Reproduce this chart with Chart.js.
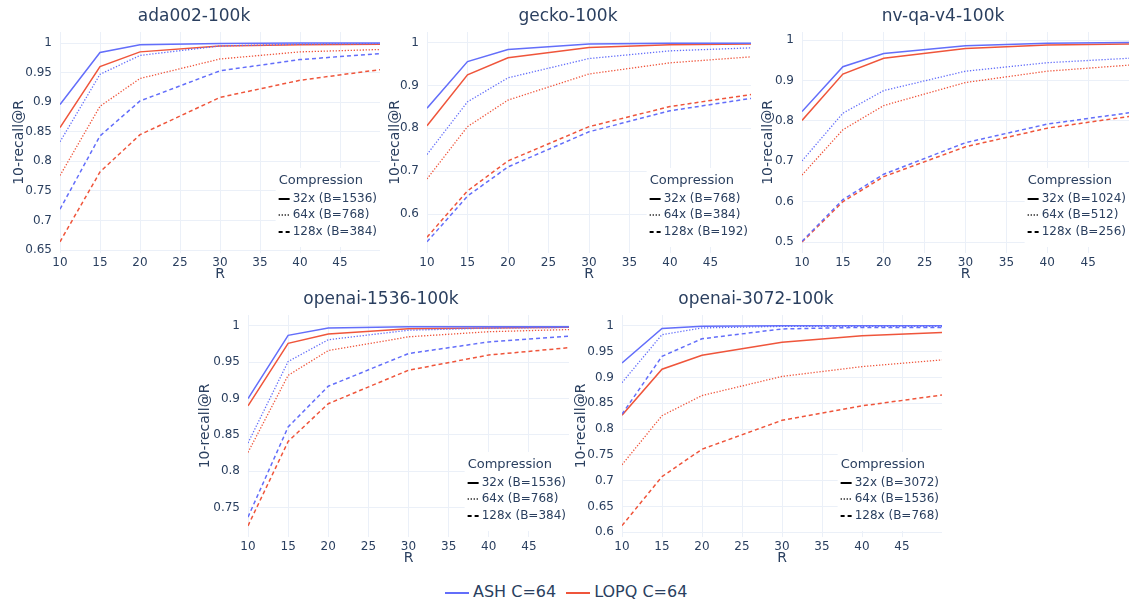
<!DOCTYPE html>
<html>
<head>
<meta charset="utf-8">
<title>recall vs R</title>
<script src="https://cdn.jsdelivr.net/npm/chart.js@4.4.1/dist/chart.umd.min.js"></script>
<style>
  body { margin: 0; background: #fff; width: 1133px; height: 605px; position: relative; overflow: hidden;
         font-family: "DejaVu Sans", Verdana, sans-serif; color: #2a3f5f; }
  .panel { position: absolute; }
  #mainLegend { position: absolute; left: 445px; top: 582px; height: 20px; line-height: 20px; font-size: 16px; white-space: nowrap; }
  #mainLegend .item { display: inline-block; margin-right: 10px; }
  #mainLegend .swatch { display: inline-block; width: 24px; height: 2px; vertical-align: middle; margin-right: 4px; }
</style>
</head>
<body>
<div id="mainLegend"></div>
<script>
// x values (R) shared by every panel
const recallAt = [10, 15, 20, 30, 40, 50];
const compressionLevels = ['32x', '64x', '128x'];
const panelTitles = ['ada002-100k', 'gecko-100k', 'nv-qa-v4-100k', 'openai-1536-100k', 'openai-3072-100k'];
const bitBudgets = [[1536, 768, 384], [768, 384, 192], [1024, 512, 256], [1536, 768, 384], [3072, 1536, 768]];
const methodNames = ['ASH C=64', 'LOPQ C=64'];
const methodColors = ['#636efa', '#EF553B'];
const yTickSteps = [0.05, 0.1, 0.1, 0.05, 0.05];

// 10-recall@R, rows = 32x, 64x, 128x
const ada002Ash = [
  [0.896, 0.984, 0.997, 0.999, 1.0, 1.0],
  [0.833, 0.947, 0.979, 0.995, 0.998, 0.999],
  [0.719, 0.843, 0.902, 0.953, 0.972, 0.982]
];
const ada002Lopq = [
  [0.857, 0.960, 0.985, 0.995, 0.997, 0.998],
  [0.776, 0.893, 0.940, 0.973, 0.985, 0.989],
  [0.664, 0.782, 0.845, 0.908, 0.937, 0.955]
];
const geckoAsh = [
  [0.847, 0.956, 0.984, 0.997, 0.999, 0.999],
  [0.739, 0.862, 0.918, 0.963, 0.981, 0.988],
  [0.535, 0.642, 0.710, 0.792, 0.841, 0.870]
];
const geckoLopq = [
  [0.806, 0.925, 0.965, 0.989, 0.995, 0.997],
  [0.682, 0.804, 0.866, 0.927, 0.953, 0.967],
  [0.546, 0.654, 0.724, 0.804, 0.851, 0.879]
];
const nvqaAsh = [
  [0.823, 0.934, 0.967, 0.986, 0.992, 0.994],
  [0.701, 0.819, 0.875, 0.923, 0.944, 0.955],
  [0.502, 0.605, 0.668, 0.746, 0.792, 0.820]
];
const nvqaLopq = [
  [0.801, 0.916, 0.955, 0.979, 0.988, 0.990],
  [0.666, 0.778, 0.838, 0.895, 0.923, 0.938],
  [0.500, 0.600, 0.662, 0.736, 0.782, 0.811]
];
const openai1536Ash = [
  [0.900, 0.987, 0.997, 0.999, 0.999, 0.999],
  [0.839, 0.951, 0.981, 0.994, 0.997, 0.998],
  [0.737, 0.861, 0.917, 0.962, 0.978, 0.986]
];
const openai1536Lopq = [
  [0.890, 0.976, 0.989, 0.996, 0.997, 0.998],
  [0.826, 0.932, 0.966, 0.985, 0.992, 0.995],
  [0.725, 0.841, 0.893, 0.939, 0.960, 0.970]
];
const openai3072Ash = [
  [0.928, 0.995, 0.999, 1.0, 1.0, 1.0],
  [0.890, 0.983, 0.996, 0.999, 0.999, 0.999],
  [0.829, 0.941, 0.975, 0.994, 0.997, 0.997]
];
const openai3072Lopq = [
  [0.827, 0.916, 0.943, 0.968, 0.981, 0.987],
  [0.731, 0.826, 0.865, 0.902, 0.921, 0.934],
  [0.613, 0.708, 0.761, 0.817, 0.845, 0.866]
];

const panelData = [
  [ada002Ash, ada002Lopq],
  [geckoAsh, geckoLopq],
  [nvqaAsh, nvqaLopq],
  [openai1536Ash, openai1536Lopq],
  [openai3072Ash, openai3072Lopq]
];

// where each subplot sits on the page
const panelBoxes = [
  {left: 11,  top: 0,   plotLeft: 60,  plotRight: 380,  plotBottom: 253, titleX: 194, yMin: 0.645,  yMax: 1.0186},
  {left: 387, top: 0,   plotLeft: 427, plotRight: 751,  plotBottom: 253, titleX: 568, yMin: 0.509,  yMax: 1.025},
  {left: 760, top: 0,   plotLeft: 802, plotRight: 1129, plotBottom: 253, titleX: 943, yMin: 0.473,  yMax: 1.020},
  {left: 197, top: 283, plotLeft: 248, plotRight: 569,  plotBottom: 537, titleX: 381, yMin: 0.7096, yMax: 1.015},
  {left: 573, top: 283, plotLeft: 622, plotRight: 942,  plotBottom: 537, titleX: 756, yMin: 0.591,  yMax: 1.021}
];

const FONT = "'DejaVu Sans', Verdana, sans-serif";
const TEXT = '#2a3f5f';
const GRID = '#EBF0F8';
const dashStyles = [[], [1.3, 1.7], [4, 3]];
const dashWidths = [1.5, 1.3, 1.5];

Chart.defaults.font.family = FONT;
Chart.defaults.color = TEXT;

// subplot title + "Compression" legend drawn inside the plot
const panelDeco = {
  id: 'panelDeco',
  afterDraw(chart, args, opts) {
    const ctx = chart.ctx;
    const area = chart.chartArea;
    ctx.save();
    ctx.fillStyle = TEXT;
    ctx.font = '17px ' + FONT;
    ctx.textAlign = 'center';
    ctx.textBaseline = 'alphabetic';
    ctx.fillText(opts.title, opts.titleX, 20.5);

    ctx.font = '12px ' + FONT;
    const w = Math.max(...opts.entries.map(t => ctx.measureText(t).width));
    const textLeft = area.right - 3 - w;
    ctx.fillStyle = '#fff';
    ctx.fillRect(textLeft - 17, area.bottom - 85, area.right - textLeft + 17, 79);

    ctx.fillStyle = TEXT;
    ctx.textAlign = 'left';
    ctx.textBaseline = 'middle';
    ctx.font = '13px ' + FONT;
    ctx.fillText('Compression', textLeft - 14, area.bottom - 72);
    ctx.font = '12px ' + FONT;
    const rowY = [-54, -38, -21];
    opts.entries.forEach((t, i) => {
      const y = area.bottom + rowY[i];
      ctx.strokeStyle = i === 1 ? '#555' : '#000';
      ctx.lineWidth = 2;
      ctx.setLineDash(dashStyles[i]);
      ctx.beginPath();
      ctx.moveTo(textLeft - 14, y);
      ctx.lineTo(textLeft - 3, y);
      ctx.stroke();
      ctx.fillText(t, textLeft, y);
    });
    ctx.restore();
  }
};

panelData.forEach((methods, p) => {
  const box = panelBoxes[p];
  const width = box.plotRight + 4 - box.left;
  const height = box.plotBottom + 30 - box.top;

  const holder = document.createElement('div');
  holder.className = 'panel';
  holder.style.left = box.left + 'px';
  holder.style.top = box.top + 'px';
  const canvas = document.createElement('canvas');
  canvas.width = width;
  canvas.height = height;
  holder.appendChild(canvas);
  document.body.appendChild(holder);

  const datasets = [];
  methods.forEach((rows, m) => {
    rows.forEach((vals, c) => {
      datasets.push({
        label: methodNames[m] + ' ' + compressionLevels[c],
        data: recallAt.map((r, i) => ({x: r, y: vals[i]})),
        borderColor: methodColors[m],
        borderWidth: dashWidths[c],
        borderDash: dashStyles[c],
        pointRadius: 0,
        tension: 0,
        fill: false
      });
    });
  });

  const entries = compressionLevels.map((lvl, c) => lvl + ' (B=' + bitBudgets[p][c] + ')');

  new Chart(canvas, {
    type: 'line',
    data: {datasets: datasets},
    options: {
      responsive: false,
      animation: false,
      layout: {padding: {top: 32, right: 4, left: 0, bottom: 0}},
      plugins: {
        legend: {display: false},
        tooltip: {enabled: false},
        panelDeco: {title: panelTitles[p], titleX: box.titleX - box.left, entries: entries}
      },
      scales: {
        x: {
          type: 'linear',
          min: 10,
          max: 50,
          afterFit: s => { s.height = 30; },
          border: {display: false},
          grid: {
            drawTicks: false,
            color: c => (c.tick && c.tick.value === 50) ? 'rgba(0,0,0,0)' : GRID
          },
          ticks: {
            stepSize: 5,
            padding: 3,
            maxRotation: 0,
            autoSkip: false,
            font: {size: 12},
            callback: v => v === 50 ? '' : v
          },
          title: {display: true, text: 'R', font: {size: 14}, padding: {top: 0, bottom: 0}}
        },
        y: {
          min: box.yMin,
          max: box.yMax,
          afterFit: s => { s.width = box.plotLeft - box.left; },
          border: {display: false},
          grid: {drawTicks: false, color: GRID},
          ticks: {
            stepSize: yTickSteps[p],
            includeBounds: false,
            padding: 8,
            font: {size: 12},
            callback: v => String(Math.round(v * 100) / 100)
          },
          title: {display: true, text: '10-recall@R', font: {size: 14}, padding: {top: 0, bottom: 0}}
        }
      }
    },
    plugins: [panelDeco]
  });
});

// shared legend under the subplots
const legendEl = document.getElementById('mainLegend');
methodNames.forEach((name, m) => {
  const item = document.createElement('span');
  item.className = 'item';
  const sw = document.createElement('span');
  sw.className = 'swatch';
  sw.style.background = methodColors[m];
  item.appendChild(sw);
  item.appendChild(document.createTextNode(name));
  legendEl.appendChild(item);
});
</script>
</body>
</html>
